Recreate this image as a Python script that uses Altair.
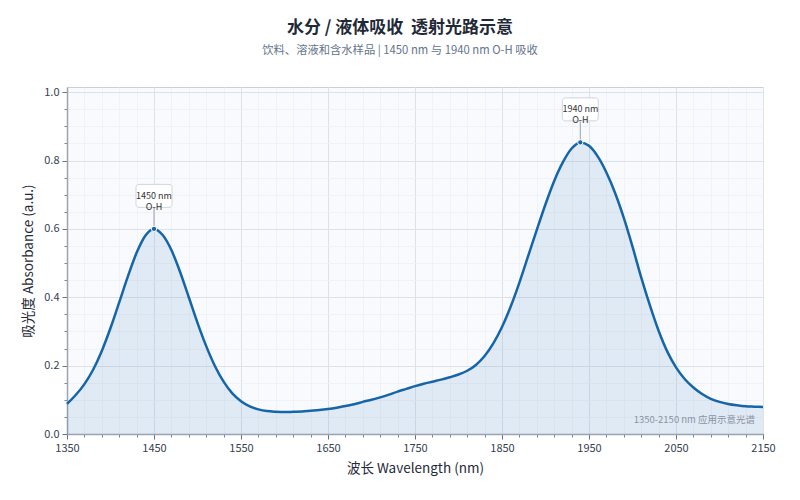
import altair as alt
import pandas as pd

FONT = "Noto Sans CJK SC"

wavelength = list(range(1350, 2151, 10))
absorbance = [
    0.088, 0.114, 0.146, 0.188, 0.243, 0.310, 0.385, 0.461, 0.530, 0.580,
    0.600, 0.582, 0.538, 0.474, 0.400, 0.325, 0.257, 0.199, 0.153, 0.119,
    0.096, 0.081, 0.072, 0.067, 0.065, 0.064, 0.065, 0.066, 0.068, 0.070,
    0.073, 0.077, 0.082, 0.087, 0.094, 0.100, 0.107, 0.115, 0.124, 0.132,
    0.140, 0.147, 0.153, 0.159, 0.166, 0.174, 0.185, 0.202, 0.228, 0.265,
    0.313, 0.373, 0.443, 0.520, 0.597, 0.672, 0.740, 0.795, 0.835, 0.853,
    0.843, 0.812, 0.765, 0.705, 0.632, 0.548, 0.458, 0.376, 0.302, 0.241,
    0.195, 0.161, 0.136, 0.117, 0.103, 0.094, 0.088, 0.084, 0.081, 0.080,
    0.079,
]

peak_nm = [1450, 1940]
peak_abs = [0.600, 0.853]
peak_label = ["1450 nm\nO-H", "1940 nm\nO-H"]

x_major = [1350, 1450, 1550, 1650, 1750, 1850, 1950, 2050, 2150]
x_minor = list(range(1350, 2151, 20))
y_major = [0.0, 0.2, 0.4, 0.6, 0.8, 1.0]
y_minor = [i / 20 for i in range(0, 21)]

LINE = "#1565a8"

spec = pd.DataFrame({"nm": wavelength, "abs": absorbance})
peaks = pd.DataFrame({"nm": peak_nm, "abs": peak_abs, "label": peak_label})

x_scale = alt.Scale(domain=[1350, 2150], nice=False, zero=False)
y_scale = alt.Scale(domain=[0, 1.015], nice=False)

base = alt.Chart(spec)

# minor grid + minor ticks
area = base.mark_area(color=LINE, opacity=0.1, interpolate="monotone").encode(
    x=alt.X(
        "nm:Q",
        scale=x_scale,
        axis=alt.Axis(
            values=x_minor, labels=False, title=None, domain=False,
            grid=True, gridColor="#edf0f5", gridWidth=0.8,
            tickColor="#7b8594", tickSize=3, orient="bottom",
        ),
    ),
    y=alt.Y(
        "abs:Q",
        scale=y_scale,
        axis=alt.Axis(
            values=y_minor, labels=False, title=None, domain=False,
            grid=True, gridColor="#edf0f5", gridWidth=0.8,
            tickColor="#7b8594", tickSize=3, orient="left",
        ),
    ),
)

line = base.mark_line(color=LINE, strokeWidth=2.5, interpolate="monotone").encode(
    x=alt.X(
        "nm:Q",
        scale=x_scale,
        axis=alt.Axis(
            values=x_major, title="波长 Wavelength (nm)", format="d",
            grid=True, gridColor="#dde2ea", gridWidth=1,
            domainColor="#9aa3b2", domainWidth=1.5,
            tickColor="#6b7280", tickSize=5, orient="bottom",
            labelFontSize=11, labelColor="#374151", labelPadding=3,
            labelFlush=False, labelOverlap=False,
            titleFontSize=13.5, titleFontWeight="normal", titleColor="#1f2937",
            titlePadding=8,
        ),
    ),
    y=alt.Y(
        "abs:Q",
        scale=y_scale,
        axis=alt.Axis(
            values=y_major, title="吸光度 Absorbance (a.u.)", format=".1f",
            grid=True, gridColor="#dde2ea", gridWidth=1,
            domainColor="#9aa3b2", domainWidth=1.5,
            tickColor="#6b7280", tickSize=5, orient="left",
            labelFontSize=11, labelColor="#374151", labelPadding=3,
            labelFlush=False,
            titleFontSize=13.5, titleFontWeight="normal", titleColor="#1f2937",
            titlePadding=8,
        ),
    ),
)

px = alt.X("nm:Q", axis=None)
py = alt.Y("abs:Q", axis=None)

pk = alt.Chart(peaks)
stem = pk.mark_rule(color="#9ca3af", strokeWidth=1, y2Offset=-21).encode(
    x=px, y=py, y2="abs:Q"
)
dots = pk.mark_point(
    filled=True, shape="circle", size=28, color=LINE,
    stroke="white", strokeWidth=1, opacity=1,
).encode(x=px, y=py)
boxes = pk.mark_rect(
    width=36, height=23, fill="white", stroke="#cfd5de", strokeWidth=1,
    cornerRadius=3, yOffset=-33,
).encode(x=px, y=py)
labels = pk.mark_text(
    fontSize=9, color="#333333", lineBreak="\n", lineHeight=11,
    baseline="middle", align="center", yOffset=-33, font=FONT,
).encode(x=px, y=py, text="label:N")

note = alt.Chart(pd.DataFrame({"t": ["1350-2150 nm 应用示意光谱"]})).mark_text(
    fontSize=9.5, color="#8a93a3", align="right", baseline="middle",
    dx=-8, dy=-14, font=FONT,
).encode(
    x=alt.X(datum=2150, axis=None),
    y=alt.Y(datum=0, axis=None),
    text="t:N",
)

chart = (
    alt.layer(area, line, stem, dots, boxes, labels, note)
    .resolve_axis(x="independent", y="independent")
    .resolve_scale(x="shared", y="shared")
    .properties(
        width=696,
        height=347,
        autosize=alt.AutoSizeParams(type="none"),
        padding={"left": 59, "top": 79, "right": 29, "bottom": 58},
        background="white",
        title=alt.Title(
            "水分 / 液体吸收\u00a0\u00a0透射光路示意",
            subtitle="饮料、溶液和含水样品 | 1450 nm 与 1940 nm O-H 吸收",
            anchor="middle", dx=-15, offset=29,
            fontSize=17, fontWeight="bold", color="#1f2937",
            subtitleFontSize=11.3, subtitleColor="#64748b", subtitlePadding=8,
            font=FONT, subtitleFont=FONT,
        ),
    )
    .configure_view(fill="#f8fafd", stroke="#c9d0da", strokeWidth=1)
    .configure_axis(labelFont=FONT, titleFont=FONT)
)

chart.save("out.html", embed_options={"renderer": "svg", "actions": False})
